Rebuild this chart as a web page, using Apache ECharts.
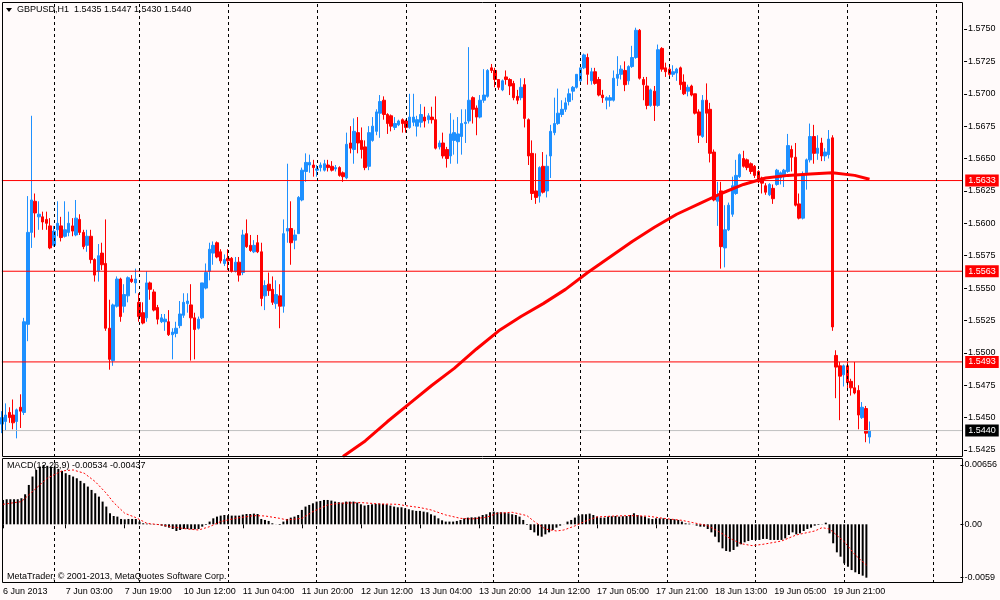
<!DOCTYPE html>
<html>
<head>
<meta charset="utf-8">
<title>GBPUSD,H1</title>
<script src="https://cdn.jsdelivr.net/npm/echarts@6/dist/echarts.min.js"></script>
<style>
  html, body { margin: 0; padding: 0; background: #fffafa; }
  #chart { width: 1000px; height: 600px; }
</style>
</head>
<body>
<div id="chart"></div>
<script>
// GBPUSD H1 — candles, MA, support/resistance levels, MACD(12,26,9)

// trading sessions: [day, first hour, last hour]; the last two are empty future slots
const SESSIONS = [
  ["6 Jun", 10, 23], ["7 Jun", 0, 22], ["10 Jun", 0, 23], ["11 Jun", 0, 23],
  ["12 Jun", 0, 23], ["13 Jun", 0, 23], ["14 Jun", 0, 22], ["17 Jun", 0, 23],
  ["18 Jun", 0, 23], ["19 Jun", 0, 23], ["20 Jun", 0, 23], ["21 Jun", 0, 7],
];

const TIME_TICKS = [
  "6 Jun 2013", "7 Jun 03:00", "7 Jun 19:00", "10 Jun 12:00", "11 Jun 04:00",
  "11 Jun 20:00", "12 Jun 12:00", "13 Jun 04:00", "13 Jun 20:00", "14 Jun 12:00",
  "17 Jun 05:00", "17 Jun 21:00", "18 Jun 13:00", "19 Jun 05:00", "19 Jun 21:00",
];

const PRICE_TICKS = [1.5425, 1.545, 1.5475, 1.55, 1.5525, 1.555, 1.5575, 1.56,
  1.5625, 1.565, 1.5675, 1.57, 1.5725, 1.575];
const MACD_TICKS = [0.00656, 0, -0.0059];
const MACD_TICK_TEXT = ["0.00656", "0.00", "-0.0059"];

const LEVELS = [1.5633, 1.5563, 1.5493];

const OPEN = [
  1.5445,1.5447,1.5454,1.5452,1.5447,1.5458,1.5454,1.5522,1.5593,1.5617,
  1.5605,1.5605,1.5603,1.5598,1.5583,1.5595,1.5598,1.5590,1.5593,1.5598,
  1.5591,1.5603,1.5593,1.5583,1.5590,1.5572,1.5563,1.5577,1.5569,1.5519,
  1.5494,1.5536,1.5557,1.5536,1.5544,1.5557,1.5554,1.5539,1.5531,1.5527,
  1.5554,1.5547,1.5535,1.5524,1.5524,1.5524,1.5514,1.5515,1.5521,1.5529,
  1.5538,1.5537,1.5527,1.5519,1.5527,1.5550,1.5563,1.5577,1.5585,1.5578,
  1.5569,1.5573,1.5573,1.5563,1.5570,1.5562,1.5592,1.5583,1.5578,1.5585,
  1.5578,1.5544,1.5553,1.5549,1.5538,1.5544,1.5536,1.5594,1.5596,1.5587,
  1.5592,1.5618,1.5640,1.5645,1.5645,1.5641,1.5643,1.5641,1.5645,1.5644,
  1.5642,1.5643,1.5639,1.5635,1.5662,1.5657,1.5670,1.5664,1.5659,1.5644,
  1.5664,1.5671,1.5685,1.5695,1.5684,1.5683,1.5674,1.5676,1.5680,1.5679,
  1.5674,1.5678,1.5675,1.5678,1.5682,1.5680,1.5682,1.5680,1.5659,1.5662,
  1.5657,1.5652,1.5664,1.5663,1.5667,1.5677,1.5679,1.5697,1.5689,1.5682,
  1.5695,1.5698,1.5720,1.5718,1.5711,1.5703,1.5713,1.5711,1.5708,1.5698,
  1.5697,1.5707,1.5680,1.5654,1.5625,1.5621,1.5644,1.5625,1.5652,1.5670,
  1.5677,1.5684,1.5688,1.5694,1.5702,1.5705,1.5710,1.5720,1.5728,1.5710,
  1.5717,1.5711,1.5699,1.5695,1.5695,1.5695,1.5712,1.5715,1.5718,1.5710,
  1.5721,1.5728,1.5749,1.5711,1.5706,1.5691,1.5702,1.5691,1.5735,1.5720,
  1.5719,1.5715,1.5716,1.5720,1.5709,1.5702,1.5706,1.5700,1.5686,1.5667,
  1.5695,1.5688,1.5655,1.5617,1.5625,1.5581,1.5595,1.5607,1.5623,1.5636,
  1.5650,1.5649,1.5646,1.5644,1.5640,1.5635,1.5629,1.5622,1.5627,1.5630,
  1.5635,1.5636,1.5640,1.5657,1.5651,1.5615,1.5604,1.5639,1.5649,1.5667,
  1.5654,1.5662,1.5652,1.5653,1.5666,1.5498,1.5490,1.5483,1.5490,1.5478,
  1.5473,1.5471,1.5450,1.5457,1.5435,
];
const HIGH = [
  1.5455,1.5461,1.5458,1.5464,1.5457,1.5468,1.5527,1.5621,1.5683,1.5623,
  1.5617,1.5609,1.5609,1.5604,1.5598,1.5617,1.5605,1.5617,1.5609,1.5604,
  1.5618,1.5607,1.5595,1.5595,1.5595,1.5573,1.5584,1.5585,1.5603,1.5541,
  1.5538,1.5559,1.5558,1.5553,1.5559,1.5560,1.5565,1.5546,1.5539,1.5563,
  1.5555,1.5549,1.5537,1.5530,1.5530,1.5533,1.5519,1.5524,1.5540,1.5546,
  1.5546,1.5553,1.5531,1.5528,1.5554,1.5569,1.5585,1.5586,1.5586,1.5580,
  1.5576,1.5580,1.5574,1.5574,1.5574,1.5595,1.5603,1.5591,1.5587,1.5591,
  1.5585,1.5556,1.5562,1.5559,1.5556,1.5553,1.5603,1.5646,1.5617,1.5595,
  1.5621,1.5643,1.5654,1.5653,1.5649,1.5645,1.5647,1.5649,1.5649,1.5648,
  1.5645,1.5644,1.5640,1.5670,1.5675,1.5681,1.5682,1.5674,1.5664,1.5675,
  1.5682,1.5688,1.5699,1.5698,1.5685,1.5684,1.5682,1.5680,1.5681,1.5680,
  1.5700,1.5700,1.5683,1.5692,1.5690,1.5685,1.5690,1.5698,1.5664,1.5670,
  1.5659,1.5685,1.5680,1.5682,1.5688,1.5688,1.5736,1.5698,1.5691,1.5699,
  1.5719,1.5719,1.5723,1.5720,1.5711,1.5711,1.5718,1.5712,1.5710,1.5703,
  1.5712,1.5712,1.5681,1.5664,1.5654,1.5644,1.5655,1.5653,1.5676,1.5697,
  1.5704,1.5695,1.5697,1.5704,1.5706,1.5715,1.5720,1.5731,1.5731,1.5720,
  1.5720,1.5713,1.5703,1.5698,1.5699,1.5718,1.5729,1.5722,1.5725,1.5722,
  1.5737,1.5751,1.5750,1.5713,1.5713,1.5704,1.5706,1.5738,1.5736,1.5724,
  1.5722,1.5722,1.5720,1.5721,1.5715,1.5707,1.5707,1.5700,1.5688,1.5699,
  1.5708,1.5693,1.5657,1.5632,1.5632,1.5614,1.5616,1.5636,1.5649,1.5654,
  1.5656,1.5650,1.5647,1.5645,1.5641,1.5636,1.5631,1.5631,1.5630,1.5642,
  1.5640,1.5642,1.5669,1.5660,1.5662,1.5623,1.5640,1.5650,1.5677,1.5676,
  1.5668,1.5666,1.5658,1.5672,1.5668,1.5502,1.5493,1.5491,1.5493,1.5480,
  1.5493,1.5475,1.5462,1.5459,1.5447,
];
const LOW = [
  1.5438,1.5440,1.5446,1.5441,1.5434,1.5442,1.5452,1.5509,1.5581,1.5589,
  1.5595,1.5595,1.5595,1.5580,1.5582,1.5590,1.5586,1.5589,1.5590,1.5590,
  1.5590,1.5591,1.5580,1.5578,1.5569,1.5555,1.5555,1.5564,1.5517,1.5487,
  1.5490,1.5535,1.5524,1.5531,1.5539,1.5554,1.5546,1.5524,1.5522,1.5524,
  1.5541,1.5532,1.5522,1.5523,1.5517,1.5513,1.5495,1.5512,1.5519,1.5527,
  1.5531,1.5494,1.5495,1.5518,1.5526,1.5549,1.5556,1.5568,1.5573,1.5569,
  1.5567,1.5564,1.5562,1.5562,1.5555,1.5560,1.5581,1.5578,1.5577,1.5577,
  1.5536,1.5533,1.5544,1.5537,1.5534,1.5519,1.5531,1.5585,1.5568,1.5580,
  1.5592,1.5617,1.5632,1.5639,1.5636,1.5636,1.5640,1.5640,1.5640,1.5640,
  1.5640,1.5636,1.5632,1.5634,1.5654,1.5646,1.5654,1.5650,1.5641,1.5641,
  1.5663,1.5668,1.5666,1.5680,1.5669,1.5671,1.5672,1.5675,1.5670,1.5670,
  1.5673,1.5675,1.5667,1.5674,1.5674,1.5677,1.5677,1.5657,1.5657,1.5650,
  1.5643,1.5646,1.5653,1.5646,1.5653,1.5662,1.5677,1.5677,1.5668,1.5681,
  1.5693,1.5697,1.5716,1.5705,1.5703,1.5702,1.5707,1.5699,1.5695,1.5692,
  1.5695,1.5674,1.5645,1.5618,1.5615,1.5616,1.5623,1.5620,1.5635,1.5668,
  1.5676,1.5682,1.5686,1.5691,1.5695,1.5704,1.5708,1.5719,1.5707,1.5707,
  1.5707,1.5698,1.5693,1.5688,1.5690,1.5694,1.5706,1.5711,1.5702,1.5707,
  1.5720,1.5727,1.5711,1.5695,1.5688,1.5690,1.5679,1.5690,1.5717,1.5713,
  1.5712,1.5713,1.5710,1.5703,1.5699,1.5698,1.5698,1.5684,1.5662,1.5666,
  1.5662,1.5647,1.5617,1.5598,1.5565,1.5566,1.5594,1.5605,1.5622,1.5635,
  1.5643,1.5641,1.5638,1.5635,1.5631,1.5623,1.5622,1.5621,1.5615,1.5629,
  1.5630,1.5628,1.5639,1.5640,1.5613,1.5603,1.5603,1.5626,1.5647,1.5646,
  1.5649,1.5648,1.5648,1.5650,1.5517,1.5465,1.5448,1.5474,1.5472,1.5467,
  1.5468,1.5441,1.5449,1.5431,1.5430,
];
const CLOSE = [
  1.5450,1.5452,1.5450,1.5446,1.5456,1.5455,1.5524,1.5593,1.5618,1.5608,
  1.5607,1.5601,1.5600,1.5581,1.5594,1.5600,1.5589,1.5595,1.5600,1.5594,
  1.5604,1.5593,1.5582,1.5590,1.5572,1.5560,1.5575,1.5568,1.5519,1.5495,
  1.5537,1.5557,1.5528,1.5545,1.5558,1.5555,1.5557,1.5528,1.5523,1.5554,
  1.5549,1.5533,1.5526,1.5527,1.5526,1.5514,1.5516,1.5519,1.5530,1.5539,
  1.5540,1.5527,1.5518,1.5526,1.5554,1.5562,1.5580,1.5583,1.5574,1.5571,
  1.5572,1.5571,1.5563,1.5570,1.5560,1.5591,1.5582,1.5579,1.5583,1.5578,
  1.5542,1.5552,1.5548,1.5539,1.5545,1.5536,1.5592,1.5596,1.5585,1.5591,
  1.5620,1.5641,1.5647,1.5647,1.5643,1.5642,1.5645,1.5646,1.5643,1.5641,
  1.5643,1.5637,1.5636,1.5661,1.5658,1.5671,1.5662,1.5657,1.5643,1.5670,
  1.5675,1.5686,1.5694,1.5684,1.5677,1.5675,1.5677,1.5679,1.5677,1.5674,
  1.5682,1.5682,1.5680,1.5684,1.5679,1.5683,1.5680,1.5658,1.5662,1.5652,
  1.5650,1.5669,1.5670,1.5669,1.5677,1.5678,1.5695,1.5688,1.5682,1.5695,
  1.5699,1.5718,1.5718,1.5711,1.5705,1.5710,1.5711,1.5706,1.5697,1.5695,
  1.5705,1.5681,1.5652,1.5623,1.5620,1.5643,1.5624,1.5644,1.5671,1.5677,
  1.5685,1.5688,1.5693,1.5700,1.5705,1.5715,1.5720,1.5730,1.5715,1.5717,
  1.5708,1.5699,1.5697,1.5697,1.5697,1.5712,1.5715,1.5719,1.5707,1.5721,
  1.5728,1.5749,1.5712,1.5707,1.5691,1.5703,1.5691,1.5734,1.5719,1.5717,
  1.5715,1.5717,1.5719,1.5707,1.5700,1.5705,1.5699,1.5685,1.5668,1.5695,
  1.5685,1.5654,1.5618,1.5622,1.5582,1.5595,1.5614,1.5629,1.5637,1.5653,
  1.5644,1.5643,1.5640,1.5637,1.5632,1.5631,1.5624,1.5630,1.5619,1.5641,
  1.5639,1.5641,1.5660,1.5651,1.5614,1.5604,1.5637,1.5649,1.5667,1.5654,
  1.5658,1.5652,1.5655,1.5665,1.5520,1.5489,1.5482,1.5490,1.5477,1.5473,
  1.5469,1.5452,1.5458,1.5438,1.5440,
];

// moving average (red thick line), read at every 6th bar
const MA_INDEX = [92, 98, 104, 110, 116, 122, 128, 134, 140, 146, 152, 158, 164,
  170, 176, 182, 188, 194, 200, 206, 212, 218, 224, 230, 234];
const MA_VALUE = [1.5420, 1.5432, 1.5447, 1.5461, 1.5475, 1.5488, 1.5503, 1.5517,
  1.5528, 1.5538, 1.5549, 1.5562, 1.5574, 1.5586, 1.5597, 1.5607, 1.5615, 1.5623,
  1.5630, 1.5635, 1.5637, 1.5638, 1.5639, 1.5637, 1.5634];

const MACD = [
  0.00269,0.00277,0.00277,0.00277,0.00277,0.00288,0.00332,0.00435,0.00528,0.00601,
  0.00638,0.00656,0.00646,0.00638,0.00627,0.00613,0.00590,0.00565,0.00546,0.00528,
  0.00509,0.00480,0.00454,0.00417,0.00380,0.00343,0.00306,0.00251,0.00196,0.00122,
  0.00092,0.00085,0.00059,0.00055,0.00059,0.00059,0.00059,0.00030,0.00011,0.00007,
  0.00004,-0.00004,-0.00007,-0.00015,-0.00026,-0.00037,-0.00052,-0.00074,-0.00063,-0.00052,
  -0.00052,-0.00055,-0.00055,-0.00052,-0.00026,-0.00007,0.00030,0.00066,0.00085,0.00096,
  0.00103,0.00100,0.00096,0.00096,0.00096,0.00107,0.00114,0.00114,0.00118,0.00114,
  0.00059,0.00048,0.00037,0.00011,0.00001,-0.00007,0.00030,0.00059,0.00074,0.00085,
  0.00103,0.00159,0.00196,0.00214,0.00232,0.00251,0.00258,0.00269,0.00269,0.00262,
  0.00251,0.00244,0.00240,0.00251,0.00251,0.00251,0.00240,0.00221,0.00207,0.00214,
  0.00221,0.00225,0.00229,0.00225,0.00221,0.00207,0.00196,0.00188,0.00188,0.00177,
  0.00166,0.00155,0.00148,0.00148,0.00140,0.00133,0.00111,0.00096,0.00066,0.00044,
  0.00030,0.00030,0.00030,0.00037,0.00048,0.00066,0.00074,0.00077,0.00077,0.00085,
  0.00103,0.00111,0.00133,0.00140,0.00133,0.00133,0.00129,0.00122,0.00111,0.00103,
  0.00085,0.00048,-0.00007,-0.00063,-0.00089,-0.00125,-0.00137,-0.00111,-0.00089,-0.00063,
  -0.00037,-0.00015,0.00001,0.00030,0.00048,0.00074,0.00096,0.00111,0.00111,0.00118,
  0.00103,0.00085,0.00074,0.00074,0.00085,0.00089,0.00092,0.00085,0.00089,0.00092,
  0.00103,0.00122,0.00103,0.00092,0.00085,0.00066,0.00059,0.00066,0.00066,0.00066,
  0.00059,0.00059,0.00055,0.00048,0.00030,0.00011,0.00007,0.00001,-0.00015,-0.00026,
  -0.00026,-0.00052,-0.00089,-0.00137,-0.00199,-0.00266,-0.00295,-0.00303,-0.00284,-0.00247,
  -0.00221,-0.00199,-0.00185,-0.00173,-0.00173,-0.00173,-0.00162,-0.00162,-0.00173,-0.00173,
  -0.00173,-0.00173,-0.00155,-0.00118,-0.00089,-0.00111,-0.00100,-0.00074,-0.00052,-0.00037,
  -0.00015,-0.00007,0.00002,0.00018,-0.00100,-0.00210,-0.00310,-0.00358,-0.00432,-0.00469,
  -0.00506,-0.00531,-0.00550,-0.00568,-0.00590,
];

// MACD signal line (red dotted), read at turning points
const SIGNAL_INDEX = [0, 5, 9, 12, 16, 19, 22, 25, 28, 30, 33, 36, 39, 43, 46, 50, 53, 56,
  59, 63, 68, 71, 75, 77, 81, 84, 88, 91, 97, 102, 107, 109, 113, 116, 120, 124, 127,
  131, 134, 138, 142, 144, 147, 150, 152, 155, 158, 161, 166, 170, 175, 179, 184, 187,
  191, 194, 197, 200, 203, 206, 211, 215, 220, 222, 224, 228, 231, 234];
const SIGNAL_VALUE = [0.00221, 0.00251, 0.00399, 0.00510, 0.00590, 0.00601, 0.00565,
  0.00472, 0.00343, 0.00240, 0.00122, 0.00074, 0.00011, -0.00007, -0.00030, -0.00052,
  -0.00063, -0.00026, 0.00030, 0.00066, 0.00096, 0.00092, 0.00066, 0.00048, 0.00066,
  0.00140, 0.00214, 0.00232, 0.00240, 0.00225, 0.00221, 0.00207, 0.00185, 0.00159,
  0.00103, 0.00066, 0.00059, 0.00077, 0.00122, 0.00133, 0.00096, 0.00030, -0.00052,
  -0.00074, -0.00063, -0.00018, 0.00037, 0.00081, 0.00092, 0.00096, 0.00089, 0.00066,
  0.00044, 0.00018, -0.00015, -0.00081, -0.00155, -0.00214, -0.00236, -0.00221,
  -0.00185, -0.00118, -0.00074, -0.00037, -0.00052, -0.00192, -0.00340, -0.00450];

const MACD_TITLE = "MACD(12,26,9) -0.00534 -0.00437";
const COPYRIGHT = "MetaTrader, \u00a9 2001-2013, MetaQuotes Software Corp.";

const FONT = "Liberation Sans";
const BULL = "#1e90ff";
const BEAR = "#ff0000";

// hourly slots and the midnight separators
const slots = [];
const dayStarts = [];
SESSIONS.forEach(([day, from, to], k) => {
  if (k > 0) dayStarts.push(slots.length);
  for (let h = from; h <= to; h++) slots.push(day + " " + String(h).padStart(2, "0") + ":00");
});
const lastSlot = slots.length - 1;

const tickText = {};
TIME_TICKS.forEach((t, k) => {
  const idx = k === 0 ? 0 : slots.indexOf(t);
  if (idx >= 0) tickText[idx] = t;
});
const showTick = (idx) => tickText[idx] !== undefined;

const last = CLOSE.length - 1;
const header = "GBPUSD,H1  " + [OPEN[last], HIGH[last], LOW[last], CLOSE[last]]
  .map((v) => v.toFixed(4)).join(" ");

function separatorMarks() {
  return {
    silent: true,
    symbol: ["none", "none"],
    animation: false,
    label: { show: false },
    lineStyle: { color: "#000", type: [3, 3], width: 1 },
    data: dayStarts.map((i) => ({ xAxis: i })),
  };
}

// horizontal price line across the whole chart, with its price box on the axis
function levelSeries(value, lineColor, boxColor) {
  return {
    type: "line",
    xAxisIndex: 0,
    yAxisIndex: 0,
    silent: true,
    z: 4,
    data: [[0, value], [lastSlot, value]],
    showSymbol: false,
    color: lineColor,
    lineStyle: { color: lineColor, width: 1, type: "solid" },
    endLabel: {
      show: true,
      distance: 3,
      formatter: () => value.toFixed(4),
      color: "#fff",
      backgroundColor: boxColor,
      padding: [2, 3, 1, 3],
      fontSize: 9,
      fontFamily: FONT,
    },
  };
}

const chart = echarts.init(document.getElementById("chart"));

chart.setOption({
  backgroundColor: "#fffafa",
  animation: false,
  textStyle: { fontFamily: FONT },
  grid: [
    { left: -2.19, top: 2, width: 966.26, height: 455 },
    { left: -2.19, top: 458, width: 966.26, height: 125 },
  ],
  xAxis: [
    {
      type: "category",
      gridIndex: 0,
      data: slots,
      boundaryGap: true,
      axisLine: { show: false },
      axisTick: { show: false },
      axisLabel: { show: false },
      splitLine: { show: false },
    },
    {
      type: "category",
      gridIndex: 1,
      data: slots,
      boundaryGap: true,
      axisLine: { show: false },
      axisTick: {
        show: true,
        alignWithLabel: true,
        interval: showTick,
        length: 4,
        lineStyle: { color: "#000" },
      },
      axisLabel: {
        show: true,
        interval: showTick,
        formatter: (v, i) => tickText[i] || "",
        align: "left",
        margin: 4,
        fontSize: 9,
        fontFamily: FONT,
        color: "#000",
      },
      splitLine: { show: false },
    },
  ],
  yAxis: [
    {
      type: "value",
      gridIndex: 0,
      position: "right",
      min: 1.54196,
      max: 1.577084,
      splitLine: { show: false },
      axisLine: { show: false },
      axisTick: { show: true, length: 3, customValues: PRICE_TICKS, lineStyle: { color: "#000" } },
      axisLabel: {
        customValues: PRICE_TICKS,
        formatter: (v) => v.toFixed(4),
        margin: 4,
        fontSize: 9,
        fontFamily: FONT,
        color: "#000",
      },
    },
    {
      type: "value",
      gridIndex: 1,
      position: "right",
      min: -0.00649,
      max: 0.00733,
      splitLine: { show: false },
      axisLine: { show: false },
      axisTick: { show: true, length: 3, customValues: MACD_TICKS, lineStyle: { color: "#000" } },
      axisLabel: {
        customValues: MACD_TICKS,
        formatter: (v) => {
          let best = 0;
          MACD_TICKS.forEach((t, k) => {
            if (Math.abs(t - v) < Math.abs(MACD_TICKS[best] - v)) best = k;
          });
          return MACD_TICK_TEXT[best];
        },
        margin: 4,
        fontSize: 9,
        fontFamily: FONT,
        color: "#000",
      },
    },
  ],
  series: [
    {
      name: "GBPUSD",
      type: "candlestick",
      xAxisIndex: 0,
      yAxisIndex: 0,
      barWidth: 3,
      data: OPEN.map((o, i) => [o, CLOSE[i], LOW[i], HIGH[i]]),
      itemStyle: {
        color: BULL,
        color0: BEAR,
        borderColor: BULL,
        borderColor0: BEAR,
        borderWidth: 1,
      },
      markLine: separatorMarks(),
    },
    {
      name: "MA",
      type: "line",
      xAxisIndex: 0,
      yAxisIndex: 0,
      data: MA_INDEX.map((i, k) => [i, MA_VALUE[k]]),
      showSymbol: false,
      smooth: false,
      clip: true,
      z: 5,
      color: "#ff0000",
      lineStyle: { color: "#ff0000", width: 3 },
    },
    ...LEVELS.map((v) => levelSeries(v, "#ff0000", "#ff0000")),
    levelSeries(CLOSE[last], "#c0c0c0", "#000000"),
    {
      name: "MACD",
      type: "bar",
      xAxisIndex: 1,
      yAxisIndex: 1,
      barWidth: 2,
      data: MACD,
      itemStyle: { color: "#000" },
      markLine: separatorMarks(),
    },
    {
      name: "Signal",
      type: "line",
      xAxisIndex: 1,
      yAxisIndex: 1,
      data: SIGNAL_INDEX.map((i, k) => [i, SIGNAL_VALUE[k]]),
      showSymbol: false,
      z: 5,
      color: "#ff0000",
      lineStyle: { color: "#ff0000", width: 1, type: [2, 2] },
    },
  ],
  graphic: [
    {
      type: "rect",
      silent: true,
      z: 20,
      shape: { x: 2.5, y: 2.5, width: 960, height: 454 },
      style: { fill: "none", stroke: "#000", lineWidth: 1 },
    },
    {
      type: "rect",
      silent: true,
      z: 20,
      shape: { x: 2.5, y: 458.5, width: 960, height: 124 },
      style: { fill: "none", stroke: "#000", lineWidth: 1 },
    },
    {
      type: "polygon",
      silent: true,
      z: 20,
      shape: { points: [[6, 8], [12, 8], [9, 12]] },
      style: { fill: "#000" },
    },
    {
      type: "text",
      silent: true,
      z: 20,
      x: 17,
      y: 10,
      style: { text: header, fill: "#000", font: "9px '" + FONT + "'", verticalAlign: "middle" },
    },
    {
      type: "text",
      silent: true,
      z: 20,
      x: 7,
      y: 466,
      style: { text: MACD_TITLE, fill: "#000", font: "9px '" + FONT + "'", verticalAlign: "middle" },
    },
    {
      type: "text",
      silent: true,
      z: 20,
      x: 7,
      y: 577,
      style: { text: COPYRIGHT, fill: "#000", font: "9px '" + FONT + "'", verticalAlign: "middle" },
    },
  ],
});
</script>
</body>
</html>
